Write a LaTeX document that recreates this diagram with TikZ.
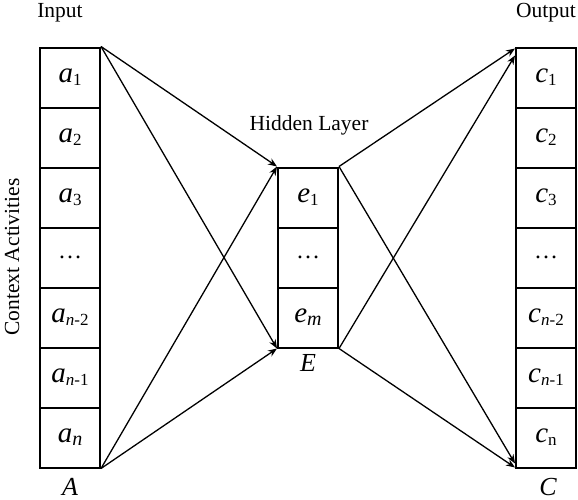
\documentclass[tikz,border=0pt]{standalone}
\usepackage{fontspec}
\setmainfont{Liberation Serif}
\usetikzlibrary{matrix,arrows.meta}

\newcommand{\lbl}[2]{\textit{#1}\raisebox{-0.1em}{\fontsize{17}{17}\selectfont #2}}
\newcommand{\nsub}[1]{\textit{n}-#1}

\begin{document}
\begin{tikzpicture}[x=1pt,y=-1pt,
    layer/.style={matrix of nodes,row sep=-2pt,
      nodes={draw,line width=2pt,minimum width=60pt,minimum height=60pt,
             inner sep=0pt,font=\fontsize{29}{29}\selectfont}},
    conn/.style={line width=1.3pt,-{Stealth[length=9pt,width=7pt]}},
    title/.style={font=\fontsize{21.5}{21.5}\selectfont},
    vec/.style={inner sep=0pt,font=\fontsize{26}{26}\selectfont\itshape}]
  \useasboundingbox (0,0) rectangle (578,500);
  \matrix (A) at (70,257.5) [layer] {
     \lbl{a}{1} \\
     \lbl{a}{2} \\
     \lbl{a}{3} \\
     {\fontsize{24}{24}\selectfont\dots} \\
     \lbl{a}{\nsub{2}} \\
     \lbl{a}{\nsub{1}} \\
     \textit{a}\raisebox{-0.1em}{\fontsize{20}{20}\selectfont\textit{n}} \\};
  \matrix (E) at (308,257.5) [layer] {
     \lbl{e}{1} \\
     {\fontsize{24}{24}\selectfont\dots} \\
     \textit{e}\raisebox{-0.1em}{\fontsize{20}{20}\selectfont\textit{m}} \\};
  \matrix (C) at (546,257.5) [layer] {
     \lbl{c}{1} \\
     \lbl{c}{2} \\
     \lbl{c}{3} \\
     {\fontsize{24}{24}\selectfont\dots} \\
     \lbl{c}{\nsub{2}} \\
     \lbl{c}{\nsub{1}} \\
     \lbl{c}{n} \\};
  \node[title] (in) at (60,13) {Input};
  \node[title] (out) at (546,13) {Output};
  \node[title] (hid) at (309,125) {Hidden Layer};
  \node[title,rotate=90] (ctx) at (12,257) {Context Activities};
  \node[vec] (Alab) at (70,487) {A};
  \node[vec] (Elab) at (308,363) {E};
  \node[vec] (Clab) at (548,487) {C};
  \path[conn]
    (A-1-1.north east) edge (E-1-1.north west)
                       edge (E-3-1.south west)
    (A-7-1.south east) edge (E-1-1.north west)
                       edge (E-3-1.south west)
    (E-1-1.north east) edge ([yshift=-2pt]C-1-1.north west)
                       edge ([yshift=5pt]C-7-1.south west)
    (E-3-1.south east) edge ([yshift=-9pt]C-1-1.north west)
                       edge ([yshift=1pt]C-7-1.south west);
\end{tikzpicture}
\end{document}
